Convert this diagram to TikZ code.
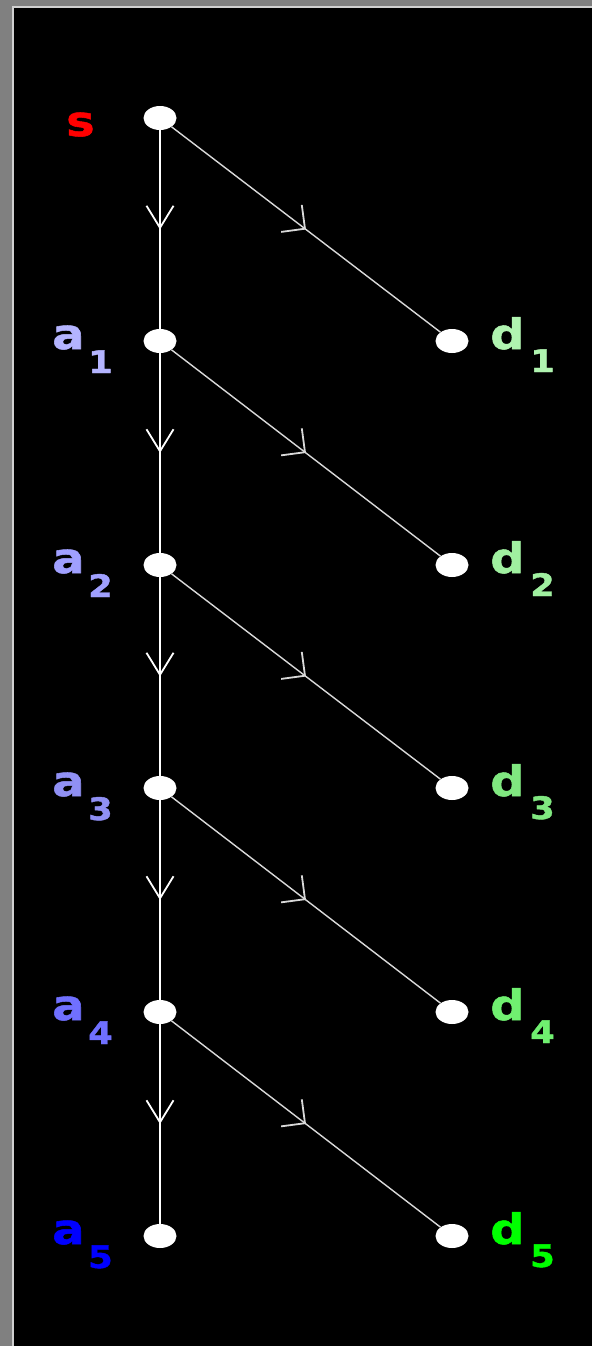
\documentclass[tikz,border=0pt]{standalone}
\usepackage{fontspec}
\setmainfont{DejaVu Sans}
\newfontfamily\labfont{DejaVu Sans Bold}[FakeStretch=1.14, FakeBold=1.2]
\usetikzlibrary{arrows.meta,decorations.markings,shapes.geometric}
\definecolor{frame}{HTML}{808080}
\definecolor{rim}{HTML}{D0D0D0}
\definecolor{cs}{HTML}{FF0000}
\definecolor{ca1}{HTML}{B4B4FF}
\definecolor{ca2}{HTML}{A0A0FF}
\definecolor{ca3}{HTML}{9090F4}
\definecolor{ca4}{HTML}{7070FF}
\definecolor{ca5}{HTML}{0000FF}
\definecolor{cd1}{HTML}{B0F4B0}
\definecolor{cd2}{HTML}{A0F0A0}
\definecolor{cd3}{HTML}{80E880}
\definecolor{cd4}{HTML}{70F070}
\definecolor{cd5}{HTML}{00FF00}
\tikzset{
  dot/.style={ellipse, fill=white, draw=none, minimum width=33pt, minimum height=24pt, inner sep=0pt},
  big/.style={anchor=base west, inner sep=0pt, font=\labfont\fontsize{42}{42}\selectfont},
  small/.style={anchor=base west, inner sep=0pt, font=\labfont\fontsize{31}{31}\selectfont},
  vedge/.style={draw=white, line width=2pt,
    postaction={decorate},
    decoration={markings, mark=at position 0.5 with {\arrow[white,line width=1.8pt]{Straight Barb[length=22pt,width=27pt]}}}},
  dedge/.style={draw=white!85!black, line width=1.4pt,
    postaction={decorate},
    decoration={markings, mark=at position 0.5 with {\arrow[white!85!black,line width=1.8pt]{Straight Barb[length=17pt,width=34pt]}}}}
}
\begin{document}
\begin{tikzpicture}[x=1pt,y=-1pt]
\useasboundingbox (0,0) rectangle (592,1346);
\fill[frame] (0,0) rectangle (592,1346);
\fill[rim] (12,6) rectangle (592,1346);
\fill[black] (14,8) rectangle (592,1346);
% nodes
\node[dot] (s) at (160,118) {};
\node[dot] (a1) at (160,341) {};
\node[dot] (a2) at (160,565) {};
\node[dot] (a3) at (160,788) {};
\node[dot] (a4) at (160,1012) {};
\node[dot] (a5) at (160,1236) {};
\node[dot] (d1) at (452,341) {};
\node[dot] (d2) at (452,565) {};
\node[dot] (d3) at (452,788) {};
\node[dot] (d4) at (452,1012) {};
\node[dot] (d5) at (452,1236) {};
% edges
\draw[vedge] (s) -- (a1);
\draw[vedge] (a1) -- (a2);
\draw[vedge] (a2) -- (a3);
\draw[vedge] (a3) -- (a4);
\draw[vedge] (a4) -- (a5);
\draw[dedge] (s) -- (d1);
\draw[dedge] (a1) -- (d2);
\draw[dedge] (a2) -- (d3);
\draw[dedge] (a3) -- (d4);
\draw[dedge] (a4) -- (d5);
% labels
\node[big, text=cs] (ls) at (66,136) {s};
\foreach \i/\y in {1/341,2/565,3/788,4/1012,5/1236}{
  \node[big, text=ca\i] (la\i) at (52,\y+8) {a};
  \node[small, text=ca\i] (la\i s) at (88,\y+32) {\i};
  \node[big, text=cd\i] (ld\i) at (490,\y+8) {d};
  \node[small, text=cd\i] (ld\i s) at (530,\y+31) {\i};
}
\end{tikzpicture}
\end{document}
